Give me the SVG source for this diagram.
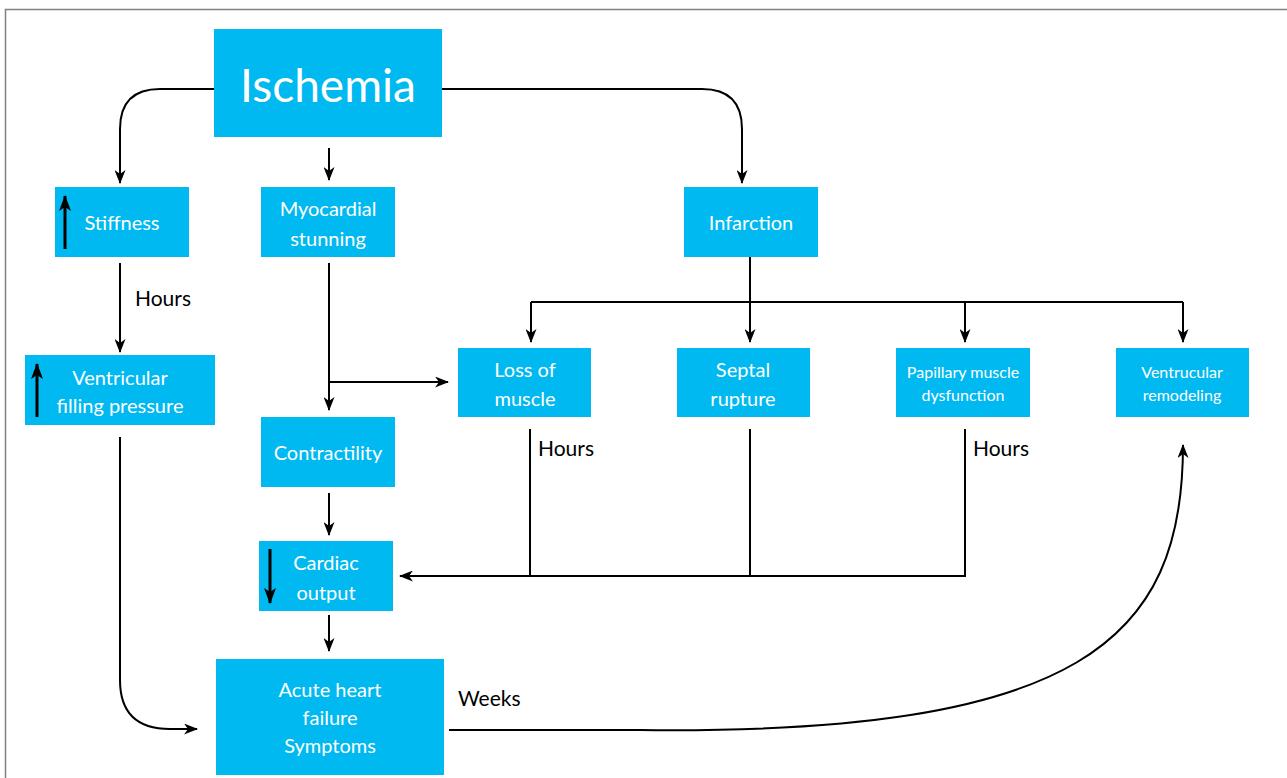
<svg xmlns="http://www.w3.org/2000/svg" width="1287" height="778" viewBox="0 0 1287 778">
<defs>
<marker id="ah" viewBox="0 0 14 11" refX="13" refY="5.5" markerWidth="14" markerHeight="11" markerUnits="userSpaceOnUse" orient="auto">
<path d="M0,0 L14,5.5 L0,11 L4,5.5 z" fill="#000"/>
</marker>
<marker id="ahb" viewBox="0 0 16 12" refX="15" refY="6" markerWidth="16" markerHeight="12" markerUnits="userSpaceOnUse" orient="auto">
<path d="M0,0 L16,6 L0,12 L4,6 z" fill="#000"/>
</marker>
<style>
.box{fill:#00B9F0}
.t{font-family:Lato,"Open Sans",sans-serif;fill:#fff;text-anchor:middle}
.m{font-size:20px}
.s{font-size:16px}
.lbl{font-family:Lato,"Open Sans",sans-serif;font-size:21px;fill:#000}
.c{fill:none;stroke:#000;stroke-width:2}
.ib{fill:none;stroke:#000;stroke-width:3}
</style>
</defs>
<rect width="1287" height="778" fill="#fff"/>
<path d="M5.5,778 V9.5 H1287" fill="none" stroke="#808080" stroke-width="1.5"/>

<g id="ischemia"><rect class="box" x="214" y="29" width="228" height="108"/><text class="t" x="328" y="102" font-size="46">Ischemia</text></g>
<g id="stiffness"><rect class="box" x="55" y="187" width="134" height="70"/><text class="t m" x="122" y="230">Stiffness</text><line class="ib" x1="65" y1="249" x2="65" y2="196" marker-end="url(#ahb)"/></g>
<g id="stunning"><rect class="box" x="261" y="187" width="134" height="70"/><text class="t m" x="328" y="216">Myocardial</text><text class="t m" x="328" y="246">stunning</text></g>
<g id="infarction"><rect class="box" x="684" y="187" width="134" height="70"/><text class="t m" x="751" y="230">Infarction</text></g>
<g id="vfp"><rect class="box" x="25" y="355" width="190" height="70"/><text class="t m" x="120" y="385">Ventricular</text><text class="t m" x="120" y="413">filling pressure</text><line class="ib" x1="37" y1="417" x2="37" y2="364" marker-end="url(#ahb)"/></g>
<g id="loss"><rect class="box" x="458" y="348" width="133" height="69"/><text class="t m" x="525" y="377">Loss of</text><text class="t m" x="525" y="406">muscle</text></g>
<g id="septal"><rect class="box" x="677" y="348" width="133" height="69"/><text class="t m" x="743" y="377">Septal</text><text class="t m" x="743" y="406">rupture</text></g>
<g id="papillary"><rect class="box" x="896" y="348" width="134" height="69"/><text class="t s" x="963" y="378">Papillary muscle</text><text class="t s" x="963" y="401">dysfunction</text></g>
<g id="remodeling"><rect class="box" x="1116" y="348" width="133" height="69"/><text class="t s" x="1182" y="378">Ventrucular</text><text class="t s" x="1182" y="401">remodeling</text></g>
<g id="contractility"><rect class="box" x="261" y="417" width="134" height="70"/><text class="t m" x="328" y="460">Contractility</text></g>
<g id="cardiac"><rect class="box" x="259" y="541" width="134" height="70"/><text class="t m" x="326" y="570">Cardiac</text><text class="t m" x="326" y="600">output</text><line class="ib" x1="270" y1="549" x2="270" y2="603" marker-end="url(#ahb)"/></g>
<g id="ahf"><rect class="box" x="216" y="659" width="228" height="116"/><text class="t m" x="330" y="697">Acute heart</text><text class="t m" x="330" y="725">failure</text><text class="t m" x="330" y="753">Symptoms</text></g>

<g id="connectors">
<path class="c" d="M214,89 H160 Q120,89 120,129 V183" marker-end="url(#ah)"/>
<path class="c" d="M329,148 V180" marker-end="url(#ah)"/>
<path class="c" d="M442,89 H702 Q742,89 742,129 V183" marker-end="url(#ah)"/>
<path class="c" d="M120,263 V352" marker-end="url(#ah)"/>
<path class="c" d="M329,263 V410" marker-end="url(#ah)"/>
<path class="c" d="M329,382 H448" marker-end="url(#ah)"/>
<path class="c" d="M750,257 V342" marker-end="url(#ah)"/>
<path class="c" d="M531,302 H1183"/>
<path class="c" d="M531,302 V342" marker-end="url(#ah)"/>
<path class="c" d="M965,302 V342" marker-end="url(#ah)"/>
<path class="c" d="M1183,302 V342" marker-end="url(#ah)"/>
<path class="c" d="M329,493 V535" marker-end="url(#ah)"/>
<path class="c" d="M329,615 V651" marker-end="url(#ah)"/>
<path class="c" d="M530,429 V576"/>
<path class="c" d="M750,429 V576"/>
<path class="c" d="M965,429 V576 H400" marker-end="url(#ah)"/>
<path class="c" d="M120,437 V680 Q120,729 170,729 H197" marker-end="url(#ah)"/>
<path class="c" d="M449,730 H640 C1080,735 1183,640 1183,445" marker-end="url(#ah)"/>
</g>
<text class="lbl" x="135" y="306">Hours</text>
<text class="lbl" x="538" y="456">Hours</text>
<text class="lbl" x="973" y="456">Hours</text>
<text class="lbl" x="458" y="706">Weeks</text>
</svg>
